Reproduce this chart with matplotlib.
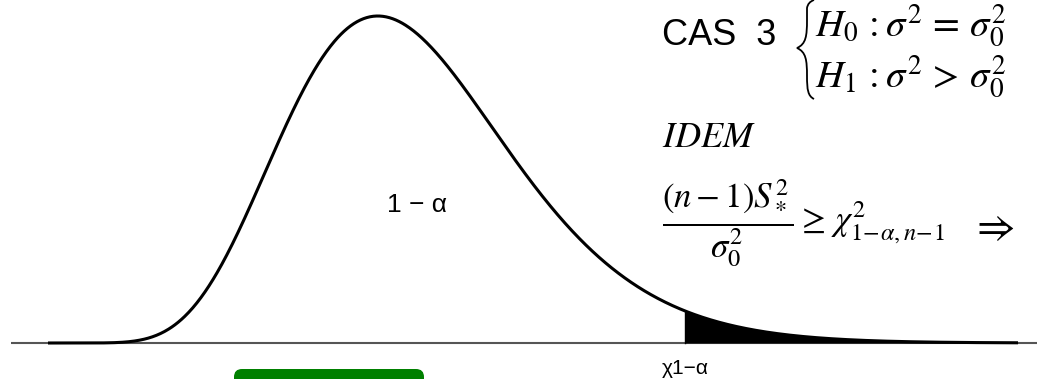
import math
import numpy as np
import matplotlib
matplotlib.use("Agg")
import matplotlib.pyplot as plt
import matplotlib.transforms as mtransforms
from matplotlib.path import Path
from matplotlib.patches import PathPatch, FancyBboxPatch

plt.rcParams["mathtext.fontset"] = "stix"

# Chi-square density shown on the chart
DF = 19            # degrees of freedom
X_MAX = 50.0       # right end of the drawn curve
CRIT = 32.85       # critical value chi2_{1-alpha}, start of the shaded tail

# Labels
CENTER_LABEL = "1 \u2212 \u03b1"
CRIT_LABEL = "\u03c71\u2212\u03b1"
CASE_LABEL = "CAS  3"
H0_TEXT = r"$H_0\,:\sigma^2\,=\,\sigma_0^2$"
H1_TEXT = r"$H_1\,:\sigma^2\,>\,\sigma_0^2$"
IDEM_TEXT = r"$IDEM$"
RULE_TEXT = r"$\dfrac{(n-1)S_*^2}{\sigma_0^2}\geq\,\chi^2_{1\!-\!\alpha,n\!-\!1}$"
IMPLIES_TEXT = r"$\Rightarrow$"


def chi2_pdf(x, k):
    x = np.asarray(x, dtype=float)
    out = np.zeros_like(x)
    pos = x > 0
    logc = -(k / 2) * math.log(2) - math.lgamma(k / 2)
    out[pos] = np.exp(logc + (k / 2 - 1) * np.log(x[pos]) - x[pos] / 2)
    return out


W, H = 1038, 379
fig = plt.figure(figsize=(W / 100, H / 100), dpi=100)
ax = fig.add_axes([0, 0, 1, 1])
ax.set_axis_off()

x = np.linspace(0, X_MAX, 1200)
y = chi2_pdf(x, DF)
fmax = chi2_pdf(np.array([DF - 2.0]), DF)[0]

# map x=0 -> px 48, x=X_MAX -> px 1018 ; y=0 -> 343 px from top, max -> 16 px
sx = (1018 - 48) / X_MAX
ax.set_xlim(-48 / sx, X_MAX + (W - 1018) / sx)
sy = (343 - 16) / fmax
ax.set_ylim(-(H - 343) / sy, 343 / sy)

# baseline
ax.plot([(11 - 48) / sx, (1037 - 48) / sx], [0, 0], color="#555555", lw=1.5,
        solid_capstyle="butt", zorder=1)

# shaded upper tail
xt = np.linspace(CRIT, X_MAX, 400)
ax.fill_between(xt, 0, chi2_pdf(xt, DF), color="black", lw=0, zorder=2)
ax.plot([CRIT, CRIT], [0, chi2_pdf(np.array([CRIT]), DF)[0]], color="black", lw=1.0, zorder=2)

# density curve
ax.plot(x, y, color="black", lw=2.2, zorder=3, solid_capstyle="butt")

# pixel coordinates (origin top-left)
px = mtransforms.Affine2D().scale(1 / W, -1 / H).translate(0, 1) + fig.transFigure

fig.text(417, 205, CENTER_LABEL, transform=px, ha="center", va="center",
         fontsize=19, family="Liberation Sans")
fig.text(685, 368, CRIT_LABEL, transform=px, ha="center", va="center",
         fontsize=15, family="Liberation Sans")

fig.text(662, 45, CASE_LABEL, transform=px, ha="left", va="baseline",
         fontsize=26, family="Liberation Sans")

# curly brace
verts = [(814, 0), (808, 2), (807, 8), (807, 20),
         (807, 36), (806, 44), (797, 48),
         (806, 52), (807, 60), (807, 76),
         (807, 90), (808, 96), (814, 99)]
codes = [Path.MOVETO, Path.CURVE3, Path.CURVE3, Path.LINETO,
         Path.CURVE4, Path.CURVE4, Path.CURVE4,
         Path.CURVE4, Path.CURVE4, Path.CURVE4,
         Path.CURVE4, Path.CURVE4, Path.CURVE4]
fig.patches.append(PathPatch(Path(verts, codes), transform=px, fill=False,
                             lw=1.3, edgecolor="black"))

fig.text(815, 37, H0_TEXT, transform=px, ha="left", va="baseline", fontsize=28)
fig.text(815, 88, H1_TEXT, transform=px, ha="left", va="baseline", fontsize=28)
fig.text(662, 147, IDEM_TEXT, transform=px, ha="left", va="baseline", fontsize=26)
fig.text(662, 223, RULE_TEXT, transform=px, ha="left", va="center", fontsize=25)
fig.text(970, 227, IMPLIES_TEXT, transform=px, ha="left", va="center", fontsize=30)

# green rounded button at the bottom
fig.patches.append(FancyBboxPatch((234 + 8, 369 + 8), 190 - 16, 40,
                                  boxstyle="round,pad=8", transform=px,
                                  facecolor="#008000", edgecolor="none"))

fig.savefig("out.png", dpi=100)
